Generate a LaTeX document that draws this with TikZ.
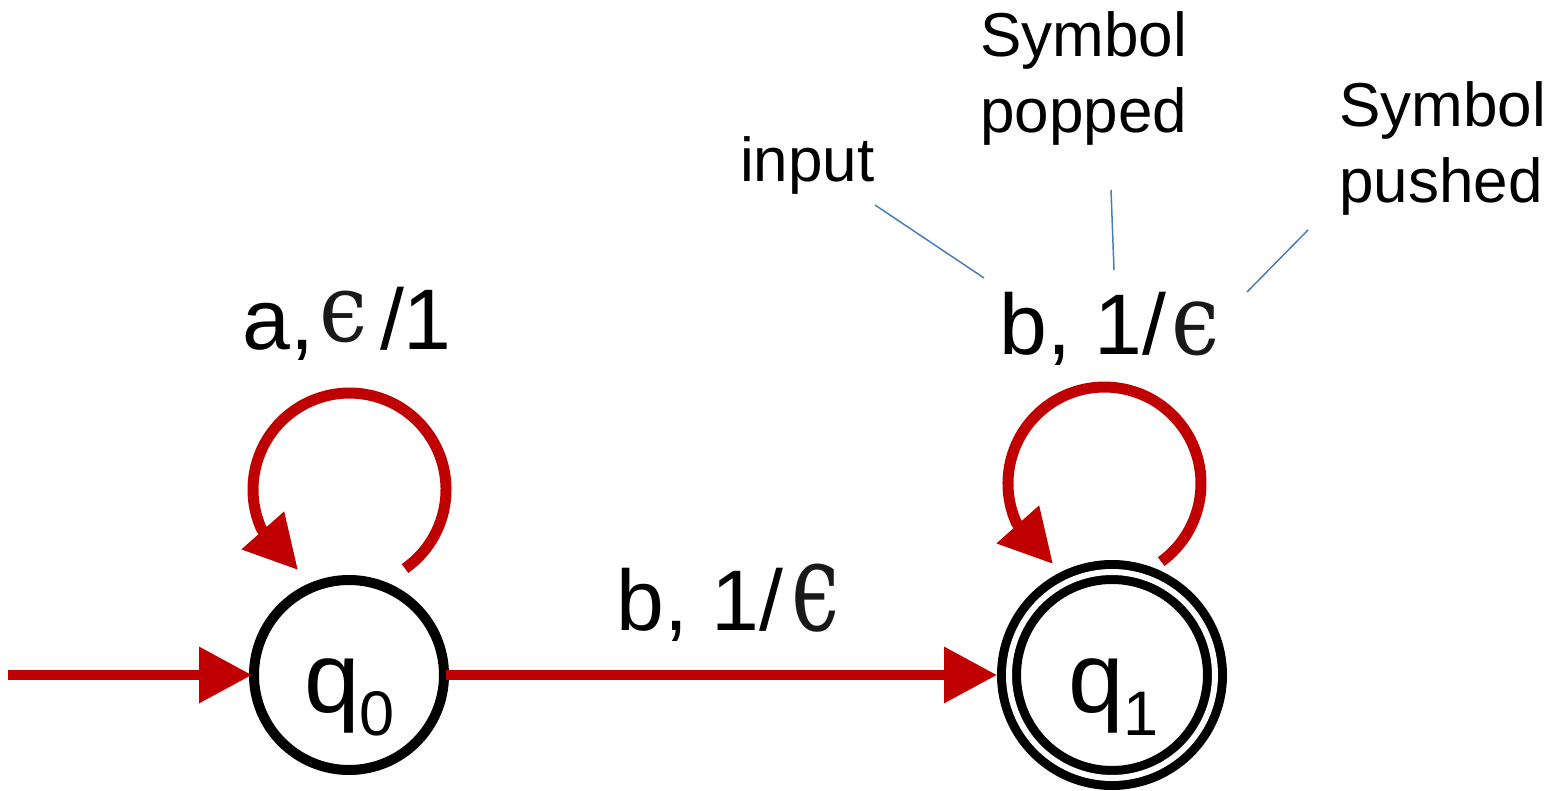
\documentclass[tikz,border=0pt]{standalone}
\usepackage{fontspec}
\setmainfont{Liberation Sans}
\newfontfamily\epsfont{DejaVu Serif}
\usepackage{graphicx}
\usetikzlibrary{arrows.meta}
\definecolor{myred}{RGB}{192,0,0}
\definecolor{myblue}{RGB}{74,126,187}
% upright lunate epsilon: #1 font size, #2 vertical scale
\newcommand{\myeps}[2]{{\color{black!90}\scalebox{1}[#2]{\fontsize{#1}{#1}\epsfont ϵ}}}
\begin{document}
\begin{tikzpicture}[x=1pt,y=1pt,
  state/.style={circle,draw=black,line width=10pt,minimum size=190pt,inner sep=0pt,outer sep=2pt},
  accept/.style={circle,draw=black,double=white,line width=9pt,double distance=6pt,minimum size=206pt,inner sep=0pt,outer sep=12pt},
  redline/.style={draw=myred,line width=10pt,-{Triangle[length=53pt,width=54pt]}},
  loopline/.style={redline,line width=11pt},
  big/.style={inner sep=0pt,anchor=base west,font=\fontsize{86}{86}\selectfont},
  statetext/.style={inner sep=0pt,anchor=base west,font=\fontsize{100}{100}\selectfont},
  note/.style={inner sep=0pt,anchor=base west,align=left,font=\fontsize{62}{76}\selectfont},
  pointer/.style={draw=myblue,line width=1.5pt}]
\useasboundingbox[fill=white] (0,0) rectangle (1552,790);

% states
\node[state] (q0) at (349,115) {};
\node[accept] (q1) at (1112,115) {};
\node[statetext] (q0t) at (304,78) {q\raisebox{-23pt}{\fontsize{63}{63}\selectfont 0}};
\node[statetext] (q1t) at (1068,78) {q\raisebox{-23pt}{\fontsize{63}{63}\selectfont 1}};

% initial arrow and transition
\coordinate (start) at (8,115);
\draw[redline] (start) -- (q0.west);
\draw[redline] (q0.east) -- (q1.west);

% self loops
\coordinate (l0a) at (405,221.5);
\coordinate (l0tip) at (298,220);
\draw[loopline] (l0a) arc[start angle=-54.9,end angle=204,radius=96.5] -- (l0tip);
\coordinate (l1a) at (1161.2,228.4);
\coordinate (l1tip) at (1053,226);
\draw[loopline] (l1a) arc[start angle=-54,end angle=204,radius=96.5] -- (l1tip);

% transition labels
\node[big] (lleft) at (242,440) {a,\hspace{6pt}\raisebox{8pt}{\myeps{86}{1.1}}\hspace{12pt}/1};
\node[big] (lmid) at (616,160) {b, 1/\hspace{8pt}\myeps{86}{1.45}};
\node[big] (lright) at (999,435) {b, 1/\hspace{5pt}\myeps{86}{1.15}};

% annotations (anchored at the baseline of their last line)
\node[note] (ninput) at (740,608) {input};
\node[note] (npop) at (980,657) {Symbol\\popped};
\node[note] (npush) at (1339,587) {Symbol\\pushed};
\coordinate (pa1) at (875,585);
\coordinate (pa2) at (984,512);
\coordinate (pb1) at (1111,600);
\coordinate (pb2) at (1114,520);
\coordinate (pc1) at (1308,560);
\coordinate (pc2) at (1247,498);
\draw[pointer] (pa1) -- (pa2);
\draw[pointer] (pb1) -- (pb2);
\draw[pointer] (pc1) -- (pc2);
\end{tikzpicture}
\end{document}
